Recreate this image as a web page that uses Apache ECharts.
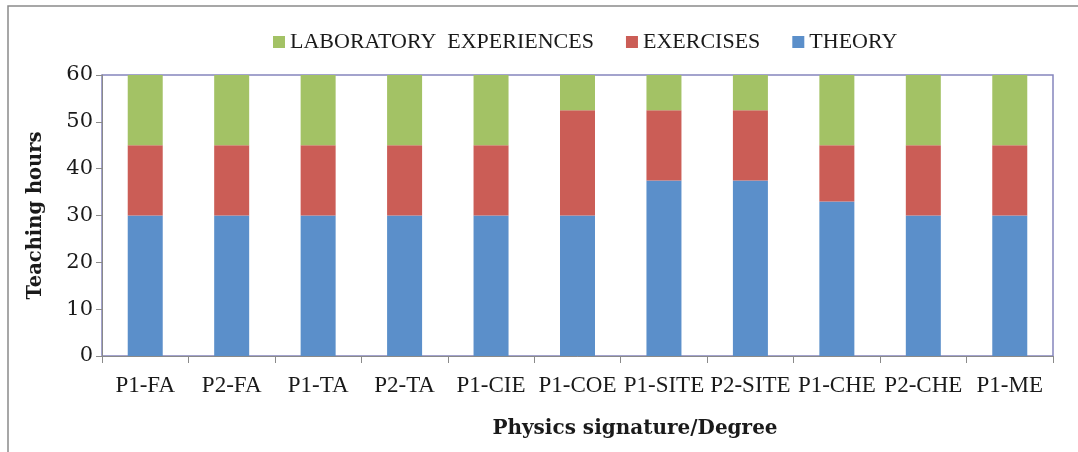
<!DOCTYPE html>
<html>
<head>
<meta charset="utf-8">
<script src="https://cdn.jsdelivr.net/npm/echarts@6/dist/echarts.min.js"></script>
<style>
html,body{margin:0;padding:0;background:#fff;}
#chart{width:1078px;height:452px;}
</style>
</head>
<body>
<div id="chart"></div>
<script>
const categories = ['P1-FA','P2-FA','P1-TA','P2-TA','P1-CIE','P1-COE','P1-SITE','P2-SITE','P1-CHE','P2-CHE','P1-ME'];
const theory = [30,30,30,30,30,30,37.5,37.5,33,30,30];
const exercises = [15,15,15,15,15,22.5,15,15,12,15,15];
const laboratory = [15,15,15,15,15,7.5,7.5,7.5,15,15,15];
const yTicks = [0,10,20,30,40,50,60];

const chart = echarts.init(document.getElementById('chart'));
const font = '"Liberation Serif", "DejaVu Serif", serif';
const dfont = '"DejaVu Serif", "Liberation Serif", serif';
chart.setOption({
  animation: false,
  backgroundColor: '#fff',
  graphic: [
    {type:'polyline', shape:{points:[[8,452],[8,6],[1078,6]]}, style:{stroke:'#8a8a8a', lineWidth:1.5, fill:null}},
    {type:'text', x: 635, y: 429, style:{text:'Physics signature/Degree', align:'center', verticalAlign:'middle', textAlign:'center', textVerticalAlign:'middle', font:'bold 20px "DejaVu Serif", "Liberation Serif", serif', fill:'#1a1a1a'}}
  ],
  legend: {
    top: 26,
    left: 268,
    itemWidth: 12,
    itemHeight: 12,
    itemGap: 32,
    icon: 'rect',
    data: ['LABORATORY  EXPERIENCES','EXERCISES','THEORY'],
    textStyle: {fontFamily: font, fontSize: 22, color:'#1a1a1a', padding:[0,0,0,0]}
  },
  grid: {left: 102, right: 25, top: 75, bottom: 96, show: true, borderColor: '#8585bd', borderWidth: 1.5},
  xAxis: {
    type: 'category',
    data: categories,
    axisLine: {show: true, lineStyle: {color: '#8a8a8a', width: 1}},
    axisTick: {show: true, length: 7, lineStyle:{color:'#8a8a8a'}},
    axisLabel: {fontFamily: font, fontSize: 23, color: '#1a1a1a', margin: 18, interval: 0}
  },
  yAxis: {
    type: 'value',
    min: 0, max: 60, interval: 10,
    name: 'Teaching hours',
    nameLocation: 'middle',
    nameGap: 56,
    nameTextStyle: {fontFamily: dfont, fontSize: 19.5, fontWeight: 'bold', color:'#1a1a1a'},
    splitLine: {show: false},
    axisLine: {show: true, lineStyle: {color: '#8a8a8a'}},
    axisTick: {show: true, length: 6, lineStyle:{color:'#8a8a8a'}},
    axisLabel: {fontFamily: dfont, fontSize: 21, color: '#1a1a1a', margin: 9,
      formatter: v => yTicks.includes(v) ? String(v) : ''}
  },
  series: [
    {name:'THEORY', type:'bar', stack:'h', data: theory, barWidth: 35, itemStyle:{color:'#5b8fca'}},
    {name:'EXERCISES', type:'bar', stack:'h', data: exercises, barWidth: 35, itemStyle:{color:'#cb5d56'}},
    {name:'LABORATORY  EXPERIENCES', type:'bar', stack:'h', data: laboratory, barWidth: 35, itemStyle:{color:'#a3c265'}}
  ]
});
</script>
</body>
</html>
